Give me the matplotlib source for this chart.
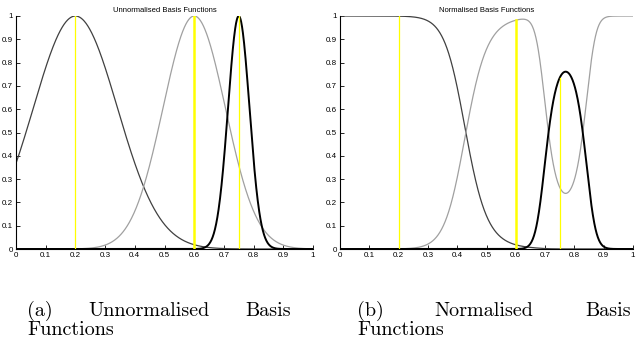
import matplotlib
matplotlib.use('Agg')
import numpy as np
import matplotlib.pyplot as plt

# basis function parameters
centres = [0.2, 0.6, 0.75]
widths = [0.04, 0.022, 0.0026]       # exp(-(x-c)^2 / w)
colours = ['#404040', '#a0a0a0', '#000000']
lwidths = [0.9, 0.9, 1.4]
stem_widths = [0.9, 1.8, 0.9]
xticks = [0, 0.1, 0.2, 0.3, 0.4, 0.5, 0.6, 0.7, 0.8, 0.9, 1]
yticks = [0, 0.1, 0.2, 0.3, 0.4, 0.5, 0.6, 0.7, 0.8, 0.9, 1]
titles = ['Unnormalised Basis Functions', 'Normalised Basis Functions']
captions = [['(a)', 'Unnormalised', 'Basis', 'Functions'],
            ['(b)', 'Normalised', 'Basis', 'Functions']]

x = np.linspace(0, 1, 1001)
phi = np.array([np.exp(-(x - c) ** 2 / w) for c, w in zip(centres, widths)])
phi_norm = phi / phi.sum(axis=0)


def gauss(xv, c, w):
    return np.exp(-(xv - c) ** 2 / w)


fig = plt.figure(figsize=(6.38, 3.46), dpi=100)
ax1 = fig.add_axes([16 / 638, 1 - 249 / 346, 297 / 638, 233 / 346])
ax2 = fig.add_axes([340 / 638, 1 - 249 / 346, 293 / 638, 233 / 346])

for ax, curves, title in [(ax1, phi, titles[0]), (ax2, phi_norm, titles[1])]:
    for k in range(len(centres)):
        ax.plot(x, curves[k], color=colours[k], lw=lwidths[k], zorder=2)
    # yellow stems at each centre, up to the function value there
    for k, c in enumerate(centres):
        vals = np.array([gauss(c, cc, ww) for cc, ww in zip(centres, widths)])
        top = vals[k] if ax is ax1 else vals[k] / vals.sum()
        ax.plot([c, c], [0, top], color='#ffff00', lw=stem_widths[k], zorder=3)
    ax.set_xlim(0, 1)
    ax.set_ylim(0, 1)
    ax.set_xticks(xticks)
    ax.set_yticks(yticks)
    ax.set_xticklabels([f'{t:g}' for t in xticks])
    ax.set_yticklabels([f'{t:g}' for t in yticks])
    for s in ['top', 'right']:
        ax.spines[s].set_visible(False)
    for s in ['left', 'bottom']:
        ax.spines[s].set_linewidth(0.8)
    ax.tick_params(direction='in', length=3, width=0.6, labelsize=5.8, pad=2)
    for lab in ax.get_xticklabels() + ax.get_yticklabels():
        lab.set_fontfamily('Liberation Sans')
    ax.set_title(title, fontsize=5.5, family='Liberation Sans', pad=3)

# justified sub-captions, serif
cap_font = dict(fontsize=14.5, family=['cmr10', 'DejaVu Serif'], va='center')
spans = [(27, 291), (357, 631)]
for (left, right), words in zip(spans, captions):
    y1 = 1 - 311 / 346
    y2 = 1 - 330 / 346
    fig.text(left / 638, y1, words[0], ha='left', **cap_font)
    fig.text(right / 638, y1, words[2], ha='right', **cap_font)
    mid = (left + 30 + right - 50) / 2
    fig.text(mid / 638, y1, words[1], ha='center', **cap_font)
    fig.text(left / 638, y2, words[3], ha='left', **cap_font)

fig.savefig('out.png', dpi=100)
